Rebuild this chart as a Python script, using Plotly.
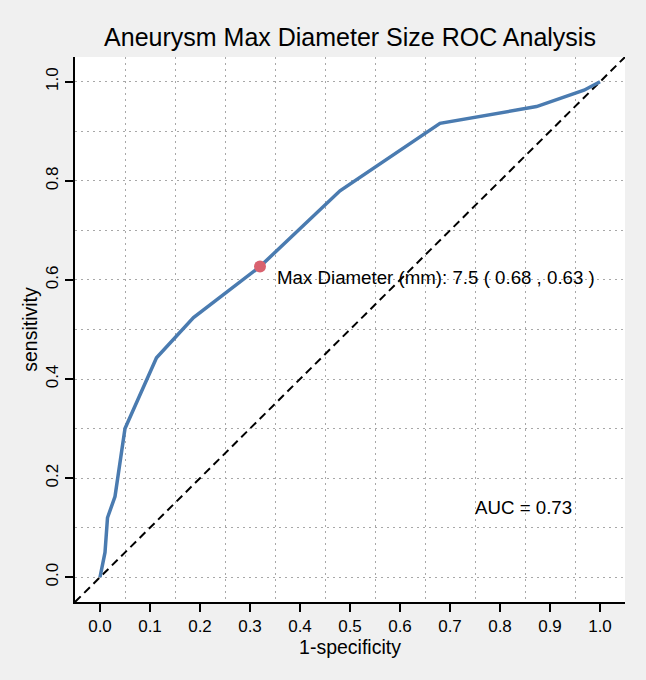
import plotly.graph_objects as go

# ROC curve points (1-specificity, sensitivity)
fpr = [0.0, 0.01, 0.015, 0.03, 0.05, 0.113, 0.187, 0.32, 0.48, 0.68, 0.873, 0.968, 1.0]
tpr = [0.0, 0.05, 0.12, 0.163, 0.30, 0.443, 0.524, 0.627, 0.78, 0.916, 0.95, 0.983, 1.0]

# best cut-off point
cut_fpr = [0.32]
cut_tpr = [0.627]
cut_label = "Max Diameter (mm): 7.5 ( 0.68 , 0.63 )"
auc_label = "AUC = 0.73"

axis_range = [-0.05, 1.05]
x_ticks = [0.0, 0.1, 0.2, 0.3, 0.4, 0.5, 0.6, 0.7, 0.8, 0.9, 1.0]
y_ticks = [0.0, 0.2, 0.4, 0.6, 0.8, 1.0]

FONT = "Liberation Sans, Arial, sans-serif"
GRID = "#a8a8a8"
GRID_DASH = "1.5px,4.5px"

fig = go.Figure()

# chance line
fig.add_trace(go.Scatter(
    x=axis_range, y=axis_range, mode="lines",
    line=dict(color="black", width=2, dash="8px,5px"),
    hoverinfo="skip",
))

fig.add_trace(go.Scatter(
    x=fpr, y=tpr, mode="lines",
    line=dict(color="#4a7bb0", width=3.5),
))

fig.add_trace(go.Scatter(
    x=cut_fpr, y=cut_tpr, mode="markers",
    marker=dict(color="#d9626f", size=12),
))

fig.add_annotation(
    x=cut_fpr[0] + 0.03, y=cut_tpr[0] - 0.022, text=cut_label,
    xanchor="left", yanchor="middle", showarrow=False,
    font=dict(family=FONT, size=18.7, color="black"),
)
fig.add_annotation(
    x=0.745, y=0.14, text=auc_label,
    xanchor="left", yanchor="middle", showarrow=False,
    font=dict(family=FONT, size=18.7, color="black"),
)

fig.update_layout(
    width=646, height=680,
    margin=dict(l=75, r=21, t=57, b=78),
    paper_bgcolor="#f0f0f0",
    plot_bgcolor="white",
    showlegend=False,
    font=dict(family=FONT, color="black"),
    title=dict(
        text="Aneurysm Max Diameter Size ROC Analysis",
        x=0.5, xref="paper", y=1 - 37 / 680, yanchor="middle",
        font=dict(family=FONT, size=25, color="black"),
    ),
)

fig.update_xaxes(
    range=axis_range,
    tickvals=x_ticks, ticktext=[f"{v:.1f}" for v in x_ticks],
    ticks="outside", ticklen=8, tickwidth=1.5, tickcolor="black",
    tickfont=dict(size=17),
    showline=True, linecolor="black", linewidth=2,
    showgrid=False, zeroline=False,
    minor=dict(tick0=0.05, dtick=0.1, showgrid=True, gridcolor=GRID,
               griddash=GRID_DASH, gridwidth=1.2, ticks=""),
    title=dict(text="1-specificity", font=dict(size=19.5), standoff=0),
)

fig.update_yaxes(
    range=axis_range,
    tickvals=y_ticks, ticktext=[f"{v:.1f}" for v in y_ticks],
    tickangle=-90,
    ticks="outside", ticklen=8, tickwidth=1.5, tickcolor="black",
    tickfont=dict(size=17),
    showline=True, linecolor="black", linewidth=2,
    showgrid=True, gridcolor=GRID, griddash=GRID_DASH, gridwidth=1.2,
    zeroline=False,
    minor=dict(dtick=0.1, tick0=0, showgrid=True, gridcolor=GRID,
               griddash=GRID_DASH, gridwidth=1.2, ticks=""),
    title=dict(text="sensitivity", font=dict(size=19.5), standoff=0),
)

fig.write_html(
    "out.html",
    config={"displayModeBar": False},
    post_script="document.body.style.margin='0';",
)
